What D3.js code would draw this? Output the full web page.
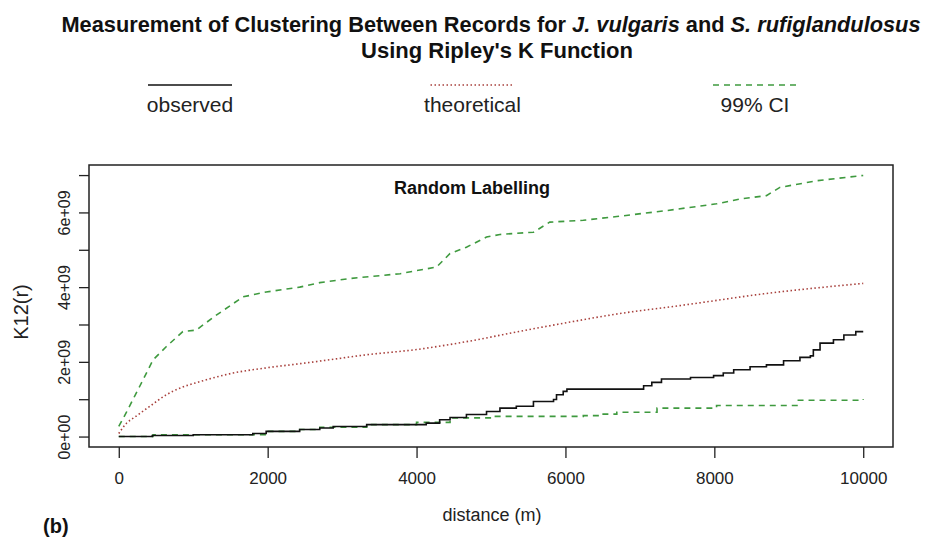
<!DOCTYPE html>
<html>
<head>
<meta charset="utf-8">
<script src="https://cdn.jsdelivr.net/npm/d3@7"></script>
<style>
  body { margin: 0; background: #fff; }
  svg { display: block; font-family: "Liberation Sans", Arial, sans-serif; }
</style>
</head>
<body>
<svg id="chart" width="929" height="540"></svg>
<script>
// values, K12 in units of 1e9
const observed = [
  [0, 0], [450, 0.03], [1000, 0.05], [1800, 0.08], [1980, 0.14], [2430, 0.19],
  [2700, 0.23], [2880, 0.27], [3330, 0.32], [4130, 0.36], [4310, 0.45], [4450, 0.51],
  [4670, 0.59], [4940, 0.67], [5120, 0.76], [5340, 0.81], [5570, 0.94], [5840, 0.99],
  [5880, 1.12], [5970, 1.21], [6020, 1.27], [7050, 1.36], [7160, 1.45], [7290, 1.54],
  [7680, 1.58], [7990, 1.63], [8120, 1.70], [8260, 1.79], [8480, 1.87], [8700, 1.92],
  [8930, 2.03], [9150, 2.12], [9290, 2.16], [9330, 2.32], [9420, 2.50], [9600, 2.59],
  [9740, 2.72], [9900, 2.81], [10000, 2.81]
];
const theoretical = [
  [0, 0.08], [100, 0.35], [215, 0.52], [417, 0.81], [640, 1.12], [850, 1.32],
  [1090, 1.47], [1535, 1.70], [1985, 1.84], [2430, 1.95], [2700, 2.02], [3330, 2.19],
  [4000, 2.33], [4670, 2.54], [5345, 2.80], [6020, 3.05], [6690, 3.28], [7590, 3.52],
  [8700, 3.83], [10000, 4.10]
];
const upperCI = [
  [0, 0.27], [100, 0.64], [280, 1.34], [460, 2.05], [640, 2.41], [860, 2.81],
  [1040, 2.85], [1310, 3.25], [1670, 3.74], [1980, 3.87], [2430, 4.00], [2700, 4.12],
  [3100, 4.23], [3780, 4.36], [4270, 4.54], [4450, 4.90], [4670, 5.07], [4940, 5.34],
  [5120, 5.41], [5570, 5.47], [5790, 5.74], [6240, 5.79], [6690, 5.89], [7360, 6.05],
  [8030, 6.23], [8350, 6.36], [8700, 6.45], [8880, 6.67], [9380, 6.85], [10000, 6.99]
];
const lowerCI = [
  [0, 0], [460, 0.05], [1985, 0.14], [2430, 0.19], [2700, 0.25], [3330, 0.32],
  [4000, 0.38], [4450, 0.50], [5030, 0.54], [6240, 0.56], [6470, 0.60], [6690, 0.65],
  [7230, 0.76], [8030, 0.83], [9110, 0.97], [10000, 1.00]
];
const xTicks = [0, 2000, 4000, 6000, 8000, 10000];
const yTicks = [0, 1, 2, 3, 4, 5, 6, 7];
const yLabelled = [0, 2, 4, 6];
const legendItems = ["observed", "theoretical", "99% CI"];

const svg = d3.select("#chart");
const box = { left: 89, right: 893, top: 165, bottom: 447 };

// R style: data range plus 4% on each side
const xMax = 10000;
const yAll = [].concat(observed, theoretical, upperCI, lowerCI).map(d => d[1]);
const yMin = d3.min(yAll), yMax = d3.max(yAll);
const yPad = (yMax - yMin) * 0.04;
const x = d3.scaleLinear().domain([-xMax * 0.04, xMax * 1.04]).range([box.left, box.right]);
const y = d3.scaleLinear().domain([yMin - yPad, yMax + yPad]).range([box.bottom, box.top]);

const green = "#3f9a3f", red = "#a8403c";

// plot lines
const lineStep = d3.line().x(d => x(d[0])).y(d => y(d[1])).curve(d3.curveStepAfter);
const lineLin = d3.line().x(d => x(d[0])).y(d => y(d[1]));

const g = svg.append("g");
g.append("path").datum(lowerCI).attr("d", lineStep)
  .attr("fill", "none").attr("stroke", green).attr("stroke-width", 1.6).attr("stroke-dasharray", "6,5");
g.append("path").datum(upperCI).attr("d", lineLin)
  .attr("fill", "none").attr("stroke", green).attr("stroke-width", 1.6).attr("stroke-dasharray", "6,5");
g.append("path").datum(theoretical).attr("d", d3.line().x(d => x(d[0])).y(d => y(d[1])).curve(d3.curveMonotoneX))
  .attr("fill", "none").attr("stroke", red).attr("stroke-width", 1.6).attr("stroke-dasharray", "1.5,2.5");
g.append("path").datum(observed).attr("d", lineStep)
  .attr("fill", "none").attr("stroke", "#111").attr("stroke-width", 1.6);

// box
svg.append("rect")
  .attr("x", box.left).attr("y", box.top)
  .attr("width", box.right - box.left).attr("height", box.bottom - box.top)
  .attr("fill", "none").attr("stroke", "#222").attr("stroke-width", 1.5);

// axes
const xAxis = svg.append("g").attr("transform", `translate(0,${box.bottom})`)
  .call(d3.axisBottom(x).tickValues(xTicks).tickSize(11).tickPadding(14).tickFormat(d3.format("d")));
const yAxis = svg.append("g").attr("transform", `translate(${box.left},0)`)
  .call(d3.axisLeft(y).tickValues(yTicks).tickSize(10).tickFormat(d => yLabelled.includes(d) ? (d === 0 ? "0e+00" : d + "e+09") : ""));
[xAxis, yAxis].forEach(a => {
  a.select(".domain").remove();
  a.selectAll("line").attr("stroke", "#222").attr("stroke-width", 1.3);
  a.selectAll("text").attr("fill", "#222").style("font-family", '"Liberation Sans", Arial, sans-serif');
});
xAxis.selectAll("text").style("font-size", "17px");
yAxis.selectAll("text")
  .style("font-size", "16px")
  .attr("text-anchor", "middle")
  .attr("x", null).attr("dy", null)
  .attr("transform", "translate(-25,0) rotate(-90)")
  .attr("y", 0).attr("dy", "0.35em");

// axis titles
svg.append("text").attr("x", 492).attr("y", 521).attr("text-anchor", "middle")
  .style("font-size", "18px").attr("fill", "#222").text("distance (m)");
svg.append("text").attr("transform", "translate(28,312) rotate(-90)").attr("text-anchor", "middle")
  .style("font-size", "20px").attr("fill", "#222").text("K12(r)");
svg.append("text").attr("x", 43).attr("y", 533)
  .style("font-size", "20px").style("font-weight", "bold").attr("fill", "#111").text("(b)");

svg.append("text").attr("x", 472).attr("y", 194).attr("text-anchor", "middle")
  .style("font-size", "18px").style("font-weight", "bold").attr("fill", "#111").text("Random Labelling");

// main title, squeezed to the width it has in the picture
function fitText(sel, cx, width) {
  const w = sel.node().getComputedTextLength();
  sel.attr("transform", `translate(${cx},0) scale(${width / w},1)`);
}
const t1 = svg.append("text").attr("x", 0).attr("y", 32).attr("text-anchor", "middle")
  .style("font-size", "22px").style("font-weight", "bold").attr("fill", "#111");
t1.append("tspan").text("Measurement of Clustering Between Records for ");
t1.append("tspan").style("font-style", "italic").text("J. vulgaris");
t1.append("tspan").text(" and ");
t1.append("tspan").style("font-style", "italic").text("S. rufiglandulosus");
fitText(t1, 491, 860);
const t2 = svg.append("text").attr("x", 0).attr("y", 58).attr("text-anchor", "middle")
  .style("font-size", "22px").style("font-weight", "bold").attr("fill", "#111")
  .text("Using Ripley's K Function");
fitText(t2, 497, 272);

// legend
const legX = d3.scalePoint().domain(legendItems).range([190, 755]);
const legStyle = {
  "observed": { stroke: "#111", dash: null },
  "theoretical": { stroke: red, dash: "1.5,2.5" },
  "99% CI": { stroke: green, dash: "6,5" }
};
const leg = svg.append("g").selectAll("g").data(legendItems).join("g")
  .attr("transform", d => `translate(${legX(d)},0)`);
leg.append("line").attr("x1", -42).attr("x2", 42).attr("y1", 85).attr("y2", 85)
  .attr("stroke", d => legStyle[d].stroke).attr("stroke-width", 1.6)
  .attr("stroke-dasharray", d => legStyle[d].dash);
leg.append("text").attr("y", 112).attr("text-anchor", "middle")
  .style("font-size", "21px").attr("fill", "#222").text(d => d);
</script>
</body>
</html>
